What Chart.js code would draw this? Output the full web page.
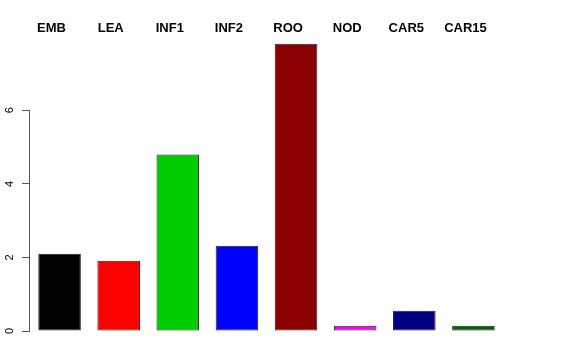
<!DOCTYPE html>
<html>
<head>
<meta charset="utf-8">
<script src="https://cdn.jsdelivr.net/npm/chart.js@4/dist/chart.umd.min.js"></script>
<style>
  html, body { margin: 0; padding: 0; background: #fff; }
  #wrap { width: 576px; height: 360px; }
</style>
</head>
<body>
<div id="wrap"><canvas id="barChart"></canvas></div>
<script>
const categories = ["EMB", "LEA", "INF1", "INF2", "ROO", "NOD", "CAR5", "CAR15"];
const values = [2.10, 1.91, 4.80, 2.32, 7.81, 0.14, 0.55, 0.14];
const barColors = ["#000000", "#FF0000", "#00CD00", "#0000FF", "#8B0000", "#FF00FF", "#000080", "#006400"];
const yTicks = [0, 2, 4, 6];

// axis line only spans the tick range, like base R
const axisLine = {
    id: "axisLine",
    afterDraw(chart) {
        const y = chart.scales.y;
        const ctx = chart.ctx;
        ctx.save();
        ctx.strokeStyle = "#555";
        ctx.lineWidth = 1;
        ctx.beginPath();
        ctx.moveTo(y.right - 0.5, y.getPixelForValue(yTicks[0]));
        ctx.lineTo(y.right - 0.5, y.getPixelForValue(yTicks[yTicks.length - 1]));
        ctx.stroke();
        ctx.restore();
    }
};

// names written across the top
const topNames = {
    id: "topNames",
    afterDraw(chart) {
        const x = chart.scales.x;
        const ctx = chart.ctx;
        ctx.save();
        ctx.font = "bold 13px 'Liberation Sans', Arial, sans-serif";
        ctx.fillStyle = "#000";
        ctx.textAlign = "center";
        ctx.textBaseline = "middle";
        categories.forEach((name, i) => {
            ctx.fillText(name, x.getPixelForValue(i) - 8, 28);
        });
        ctx.restore();
    }
};

const ctx = document.getElementById("barChart").getContext("2d");

new Chart(ctx, {
    type: "bar",
    data: {
        labels: categories,
        datasets: [{
            data: values,
            backgroundColor: barColors,
            borderColor: "#222",
            borderWidth: 1,
            borderSkipped: false,
            categoryPercentage: 1,
            barPercentage: 0.72
        }]
    },
    options: {
        responsive: true,
        maintainAspectRatio: false,
        animation: false,
        layout: {
            padding: { top: 33, right: 73, bottom: 29, left: 0 }
        },
        plugins: {
            legend: { display: false },
            tooltip: { enabled: false }
        },
        scales: {
            x: {
                display: false
            },
            y: {
                min: 0,
                max: 8.1,
                afterBuildTicks(scale) {
                    scale.ticks = yTicks.map(v => ({ value: v }));
                },
                afterFit(scale) {
                    scale.width = 30;
                },
                border: { display: false },
                grid: {
                    drawOnChartArea: false,
                    drawTicks: true,
                    tickLength: 8,
                    color: "#555"
                },
                ticks: {
                    minRotation: 90,
                    maxRotation: 90,
                    crossAlign: "center",
                    padding: 9,
                    color: "#000",
                    font: { family: "'Liberation Sans', Arial, sans-serif", size: 11 }
                }
            }
        }
    },
    plugins: [axisLine, topNames]
});
</script>
</body>
</html>
